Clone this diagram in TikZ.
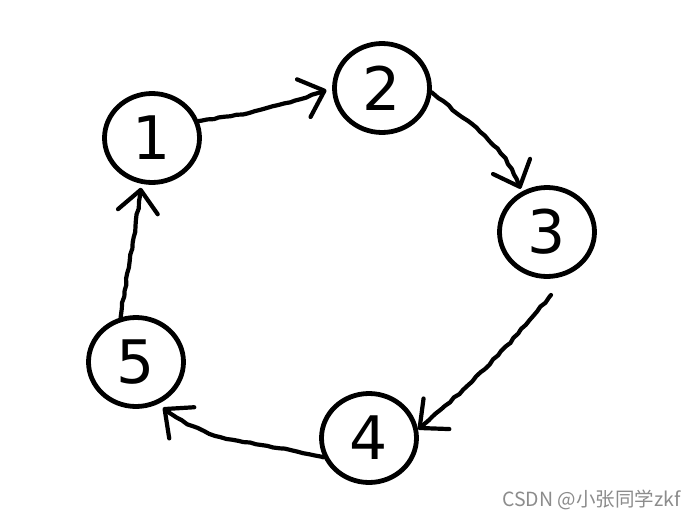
\documentclass[tikz,border=0pt]{standalone}
\usepackage{fontspec}
\setmainfont{DejaVu Sans}
\newfontfamily\cjk{Noto Sans CJK SC}
\usetikzlibrary{arrows.meta,shapes.geometric,decorations.pathmorphing}
\begin{document}
\begin{tikzpicture}[x=1pt,y=-1pt]
\useasboundingbox[fill=white] (0,0) rectangle (694,522);
\tikzset{
  state/.style={ellipse, draw, line width=4.8pt, minimum width=95pt, minimum height=89pt,
    inner sep=0pt, font=\fontsize{60}{60}\selectfont},
  hand/.style={line width=4.2pt, line cap=round, line join=round,
    -{Straight Barb[round,length=22pt,width=40pt]},
    decorate, decoration={random steps, segment length=6pt, amplitude=0.8pt,
      pre length=3pt, post length=14pt}},
  mark text/.style={font=\cjk\fontsize{19.5}{19.5}\selectfont, text=black!45}
}
\node[state] (n1) at (152,138) {1};
\node[state] (n2) at (382,88) {2};
\node[state] (n3) at (547,232) {3};
\node[state] (n4) at (369,438) {4};
\node[state] (n5) at (136,362) {5};
\coordinate (s3) at (551,295);

\draw[hand, shorten >=6pt] (n1.20) to[out=8, in=200] (n2.west);
\draw[hand, shorten >=3pt] (n2.-5) to[out=-40, in=110] (n3.122);
\draw[hand] (s3) to[out=-130, in=40] (n4.10);
\draw[hand, shorten >=6pt] (n4.203) to[out=165, in=-40] (n5.298);
\draw[hand, shorten >=4pt] (n5.109) to[out=82, in=-97] (n1.257);

\node[mark text, anchor=east] (wm) at (684,500) {CSDN @小张同学zkf};
\end{tikzpicture}
\end{document}
